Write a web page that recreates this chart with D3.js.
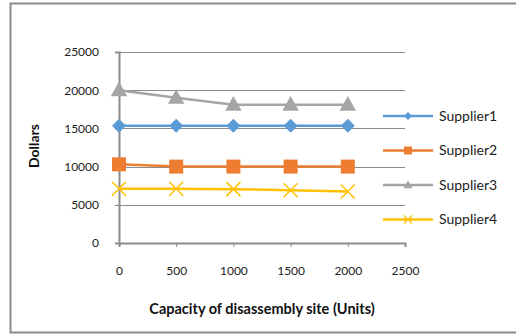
<!DOCTYPE html>
<html>
<head>
<meta charset="utf-8">
<script src="https://cdn.jsdelivr.net/npm/d3@7"></script>
<style>
	body { margin: 0; background: #fff; }
	svg { display: block; font-family: Lato, "Open Sans", sans-serif; }
</style>
</head>
<body>
<svg id="chart"></svg>
<script>
const capacities = [0, 500, 1000, 1500, 2000];
const supplierNames = ['Supplier1', 'Supplier2', 'Supplier3', 'Supplier4'];
const supplier1 = [15350, 15350, 15350, 15350, 15350];
const supplier2 = [10300, 10000, 10000, 10000, 10000];
const supplier3 = [20000, 19000, 18100, 18100, 18100];
const supplier4 = [7100, 7100, 7050, 6900, 6750];
const xTicks = [0, 500, 1000, 1500, 2000, 2500];
const yTicks = [0, 5000, 10000, 15000, 20000, 25000];
const colors = ['#5b9bd5', '#ed7d31', '#a5a5a5', '#ffc000'];
const shapes = ['diamond', 'square', 'triangle', 'cross'];

const width = 516;
const height = 335;

const svg = d3.select('#chart')
	.attr('width', width)
	.attr('height', height);

// outer chart border (right side runs off the picture)
svg.append('path')
	.attr('d', 'M530,3.5H10.5V332.5H530')
	.attr('fill', 'none')
	.attr('stroke', '#8c8c8c')
	.attr('stroke-width', 2);

const x = d3.scaleLinear().domain([0, 2500]).range([119, 405]);
const y = d3.scaleLinear().domain([0, 25000]).range([243, 52]);

// gridlines
svg.append('g')
	.selectAll('line')
	.data(yTicks.slice(1))
	.enter()
	.append('line')
	.attr('x1', x(0) - 4)
	.attr('x2', x(2500))
	.attr('y1', d => Math.round(y(d)) + 0.5)
	.attr('y2', d => Math.round(y(d)) + 0.5)
	.attr('stroke', '#8c8c8c')
	.attr('stroke-width', 1);

const yAxis = svg.append('g')
	.attr('transform', `translate(${x(0)},0)`)
	.call(d3.axisLeft(y).tickValues(yTicks).tickSize(4).tickPadding(16).tickFormat(d3.format('d')));
yAxis.select('.domain').attr('stroke', '#8c8c8c').attr('stroke-width', 2);
yAxis.selectAll('.tick line').attr('stroke', '#8c8c8c');
yAxis.selectAll('text').attr('font-size', 12).attr('fill', '#222').attr('font-family', 'Lato, sans-serif');

const xAxis = svg.append('g')
	.attr('transform', `translate(0,${y(0)})`)
	.call(d3.axisBottom(x).tickValues(xTicks).tickSize(4).tickPadding(19).tickFormat(d3.format('d')));
xAxis.select('.domain').attr('stroke', '#8c8c8c').attr('stroke-width', 2);
xAxis.selectAll('.tick line').attr('stroke', '#8c8c8c');
xAxis.selectAll('text').attr('font-size', 12).attr('fill', '#222').attr('font-family', 'Lato, sans-serif');

function markerPath(shape, s) {
	if (shape === 'diamond') return `M0,${-s}L${s},0L0,${s}L${-s},0Z`;
	if (shape === 'square') return `M${-s},${-s}H${s}V${s}H${-s}Z`;
	if (shape === 'triangle') return `M0,${-s * 1.15}L${s * 1.1},${s * 0.8}L${-s * 1.1},${s * 0.8}Z`;
	return `M${-s},${-s}L${s},${s}M${s},${-s}L${-s},${s}`;
}

const series = [supplier1, supplier2, supplier3, supplier4].map((vals, i) => ({
	name: supplierNames[i],
	color: colors[i],
	shape: shapes[i],
	points: capacities.map((c, j) => [c, vals[j]]),
}));

const line = d3.line().x(d => x(d[0])).y(d => y(d[1]));
const sizes = { diamond: 7, square: 7, triangle: 7.5, cross: 7 };

// draw in reverse so Supplier1 sits on top like the original
series.slice().reverse().forEach(s => {
	const g = svg.append('g');
	g.append('path')
		.attr('d', line(s.points))
		.attr('fill', 'none')
		.attr('stroke', s.color)
		.attr('stroke-width', 2.5);
	g.selectAll('path.mk')
		.data(s.points)
		.enter()
		.append('path')
		.attr('class', 'mk')
		.attr('transform', d => `translate(${x(d[0])},${y(d[1])})`)
		.attr('d', markerPath(s.shape, sizes[s.shape]))
		.attr('fill', s.shape === 'cross' ? 'none' : s.color)
		.attr('stroke', s.color)
		.attr('stroke-width', s.shape === 'cross' ? 1.5 : 0);
});

// legend
const legend = svg.append('g')
	.selectAll('g')
	.data(series)
	.enter()
	.append('g')
	.attr('transform', (d, i) => `translate(383,${116 + i * 34.5})`);
legend.append('line')
	.attr('x1', 0).attr('x2', 50)
	.attr('stroke', d => d.color)
	.attr('stroke-width', 2.5);
legend.append('path')
	.attr('transform', 'translate(25,0)')
	.attr('d', d => markerPath(d.shape, 4))
	.attr('fill', d => d.shape === 'cross' ? 'none' : d.color)
	.attr('stroke', d => d.color)
	.attr('stroke-width', d => d.shape === 'cross' ? 1.3 : 0);
legend.append('text')
	.attr('x', 56)
	.attr('dy', '0.35em')
	.attr('font-size', 14)
	.attr('fill', '#222')
	.text(d => d.name);

// axis titles
svg.append('text')
	.attr('x', 262)
	.attr('y', 314)
	.attr('text-anchor', 'middle')
	.attr('font-size', 14.5)
	.attr('font-weight', 'bold')
	.attr('fill', '#111')
	.text('Capacity of disassembly site (Units)');

svg.append('text')
	.attr('transform', 'translate(39,146) rotate(-90)')
	.attr('text-anchor', 'middle')
	.attr('font-size', 14)
	.attr('font-weight', 'bold')
	.attr('fill', '#111')
	.text('Dollars');
</script>
</body>
</html>
